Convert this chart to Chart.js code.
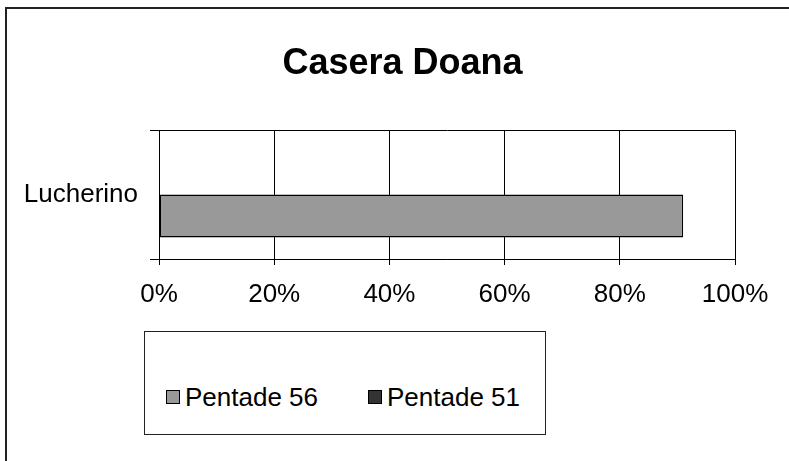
<!DOCTYPE html>
<html>
<head>
<meta charset="utf-8">
<script src="https://cdn.jsdelivr.net/npm/chart.js@4"></script>
<style>
  html, body { margin: 0; padding: 0; background: #fff; overflow: hidden; }
  body { width: 789px; height: 461px; position: relative; font-family: "Liberation Sans", Arial, sans-serif; }
  #frame { position: absolute; left: 5px; top: 7px; width: 820px; height: 520px; border: 2px solid #222; box-sizing: border-box; }
  #wrap { position: absolute; left: 0; top: 0; width: 805px; height: 461px; }
  #legend { position: absolute; left: 144px; top: 331px; width: 402px; height: 104px; border: 1px solid #222; box-sizing: border-box; background: #fff; }
  .leg-item { position: absolute; top: 52px; font-size: 26px; line-height: 26px; color: #000; white-space: nowrap; }
  .leg-box { position: absolute; width: 14px; height: 14px; border: 1px solid #000; box-sizing: border-box; }
</style>
</head>
<body>
<div id="frame"></div>
<div id="wrap"><canvas id="chart" width="805" height="461"></canvas></div>
<div id="legend"></div>
<script>
const title = 'Casera Doana';
const categories = ['Lucherino'];
// legend order as in the picture
const seriesNames = ['Pentade 56', 'Pentade 51'];
const seriesColors = ['#999999', '#333333'];
const pentade56 = [0.91];
const pentade51 = [null];
const xTicks = [0, 0.2, 0.4, 0.6, 0.8, 1];

// bars: the second series sits in the upper slot, so it goes first
const datasets = [
  { label: seriesNames[1], data: pentade51, backgroundColor: seriesColors[1] },
  { label: seriesNames[0], data: pentade56, backgroundColor: seriesColors[0] },
].map(d => ({ ...d, borderColor: '#000', borderWidth: 1.5, borderSkipped: false, categoryPercentage: 0.667, barPercentage: 1 }));

// centre the title on the whole canvas instead of the padded box
const titleSpan = {
  id: 'titleSpan',
  afterLayout(chart) {
    const t = chart.titleBlock;
    if (t) { t.left = 0; t.right = chart.width; t.width = chart.width; }
  },
};

new Chart(document.getElementById('chart'), {
  type: 'bar',
  data: { labels: categories, datasets },
  plugins: [titleSpan],
  options: {
    indexAxis: 'y',
    responsive: false,
    animation: false,
    layout: { padding: { left: 0, right: 70, top: 0, bottom: 0 } },
    plugins: {
      legend: { display: false },
      tooltip: { enabled: false },
      title: {
        display: true, text: title, color: '#000',
        font: { family: 'Liberation Sans', size: 36, weight: 'bold' },
        padding: { top: 42, bottom: 45 },
      },
    },
    scales: {
      x: {
        min: 0, max: 1,
        afterBuildTicks: axis => { axis.ticks = xTicks.map(v => ({ value: v })); },
        ticks: {
          color: '#000', padding: 14,
          font: { family: 'Liberation Sans', size: 26 },
          callback: v => Math.round(v * 100) + '%',
        },
        grid: { color: '#000', lineWidth: 1, tickLength: 6 },
        border: { color: '#000', width: 1 },
        afterFit: axis => { axis.height = 461 - 259; },
      },
      y: {
        ticks: { color: '#000', padding: 12, font: { family: 'Liberation Sans', size: 26 } },
        grid: { color: '#000', lineWidth: 1, tickLength: 9, offset: true },
        border: { color: '#000', width: 1 },
        afterFit: axis => { axis.width = 159; },
      },
    },
  },
});

// legend box below the plot
const leg = document.getElementById('legend');
const legX = [21, 223];
seriesNames.forEach((name, i) => {
  const box = document.createElement('div');
  box.className = 'leg-box';
  box.style.left = legX[i] + 'px';
  box.style.top = '58px';
  box.style.background = seriesColors[i];
  leg.appendChild(box);
  const t = document.createElement('div');
  t.className = 'leg-item';
  t.style.left = (legX[i] + 19) + 'px';
  t.textContent = name;
  leg.appendChild(t);
});
</script>
</body>
</html>
